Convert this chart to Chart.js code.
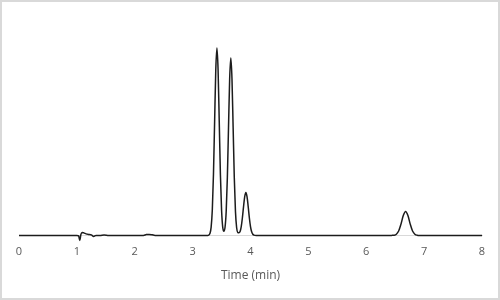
<!DOCTYPE html>
<html>
<head>
<meta charset="utf-8">
<script src="https://cdn.jsdelivr.net/npm/chart.js@4"></script>
<style>
  html, body { margin: 0; padding: 0; background: #fff; }
  #box { width: 500px; height: 300px; box-sizing: border-box; border: 2px solid #d9d9d9; }
  canvas { display: block; }
</style>
</head>
<body>
<div id="box"><canvas id="chart" width="496" height="296"></canvas></div>
<script>
// retention time (min) and detector signal
const time = [
  0, 0.5, 1.0, 1.03, 1.05, 1.07, 1.09, 1.12, 1.16, 1.2, 1.25, 1.29, 1.33, 1.4, 1.47, 1.55, 2.0,
  2.15, 2.2, 2.25, 2.3, 2.35, 2.5, 3.0, 3.2, 3.26,
  3.28, 3.30, 3.32, 3.34, 3.36, 3.38, 3.40, 3.42, 3.44, 3.46, 3.48, 3.50, 3.52, 3.54,
  3.56, 3.58, 3.60, 3.62, 3.64, 3.66, 3.68, 3.70, 3.72, 3.74, 3.76, 3.78, 3.80,
  3.82, 3.84, 3.86, 3.88, 3.90, 3.92, 3.94, 3.96, 3.98, 4.00, 4.02, 4.04, 4.06, 4.10,
  4.5, 5.0, 6.0, 6.40,
  6.44, 6.48, 6.52, 6.56, 6.60, 6.64, 6.68, 6.72, 6.76, 6.80, 6.84, 6.88, 6.92,
  7.0, 7.5, 8.0
];
const signal = [
  0, 0, 0, -0.5, -5, 1, 3, 2.5, 1.5, 1, 0.5, -1, 0, 0, 0.5, 0, 0,
  0, 0.8, 1, 0.6, 0, 0, 0, 0, 0,
  0.4, 2.1, 8.3, 25.4, 61.0, 114.0, 165.9, 188, 165.9, 114.0, 61.0, 25.4, 8.3, 4.1,
  8.2, 24.1, 57.8, 108.0, 157.1, 178, 157.1, 108.0, 57.8, 24.1, 7.9, 3.0, 2.6,
  3.9, 8.9, 17.7, 29.0, 38.9, 43, 38.9, 29.0, 17.7, 8.9, 3.6, 1.2, 0.3, 0,
  0, 0, 0, 0,
  0.02, 0.2, 1.2, 4.4, 11.3, 19.9, 24, 19.9, 11.3, 4.4, 1.2, 0.2, 0,
  0, 0, 0
];
const xTicks = [0, 1, 2, 3, 4, 5, 6, 7, 8];
const xTitle = 'Time (min)';

const points = time.map((t, i) => ({ x: t, y: signal[i] }));

new Chart(document.getElementById('chart').getContext('2d'), {
  type: 'line',
  data: {
    datasets: [{
      data: points,
      borderColor: '#1c1c1c',
      borderWidth: 1.5,
      pointRadius: 0,
      fill: false,
      cubicInterpolationMode: 'monotone',
      clip: false
    }]
  },
  options: {
    responsive: false,
    animation: false,
    layout: { padding: { left: 17, right: 16, top: 34, bottom: 10 } },
    plugins: { legend: { display: false }, tooltip: { enabled: false } },
    scales: {
      x: {
        type: 'linear',
        min: xTicks[0],
        max: xTicks[xTicks.length - 1],
        afterBuildTicks: axis => { axis.ticks = xTicks.map(v => ({ value: v })); },
        grid: { display: false, drawTicks: false },
        border: { color: '#d9d9d9', width: 1 },
        ticks: { color: '#595959', font: { family: 'Open Sans', size: 11 }, padding: 10 },
        title: {
          display: true,
          text: xTitle,
          color: '#595959',
          font: { family: 'Open Sans', size: 12 },
          padding: { top: 0, bottom: 5 }
        }
      },
      y: {
        display: false,
        min: 0,
        max: 200
      }
    }
  }
});
</script>
</body>
</html>
